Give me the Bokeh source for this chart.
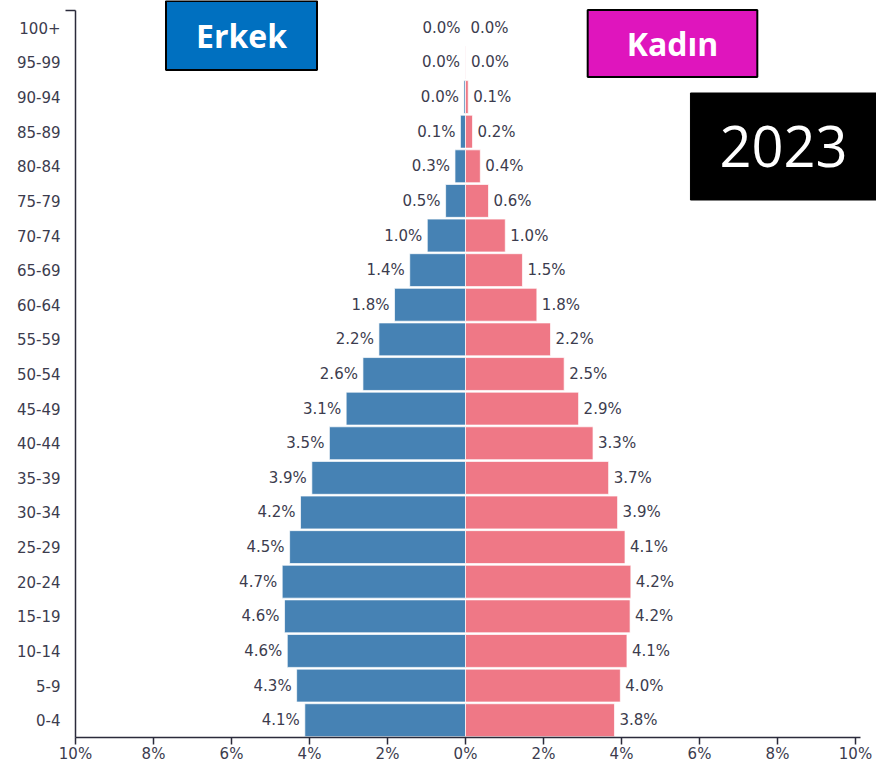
from bokeh.plotting import figure
from bokeh.models import Range1d, FixedTicker, Label, ColumnDataSource
from bokeh.embed import file_html
from bokeh.resources import INLINE
from bokeh.core.properties import value

# ---- data ----
age_groups = ["0-4", "5-9", "10-14", "15-19", "20-24", "25-29", "30-34", "35-39",
              "40-44", "45-49", "50-54", "55-59", "60-64", "65-69", "70-74", "75-79",
              "80-84", "85-89", "90-94", "95-99", "100+"]
male = [4.12, 4.33, 4.57, 4.64, 4.70, 4.51, 4.23, 3.94, 3.49, 3.06, 2.63, 2.22,
        1.82, 1.43, 0.98, 0.51, 0.27, 0.13, 0.04, 0.01, 0.00]
female = [3.82, 3.97, 4.14, 4.22, 4.24, 4.09, 3.90, 3.67, 3.27, 2.90, 2.53, 2.18,
          1.83, 1.46, 1.02, 0.59, 0.38, 0.18, 0.07, 0.01, 0.00]
x_ticks = [-10, -8, -6, -4, -2, 0, 2, 4, 6, 8, 10]
x_tick_labels = [f"{abs(t)}%" for t in x_ticks]
male_title = "Erkek"
female_title = "Kadın"
year_title = "2023"

idx = list(range(len(age_groups)))
src = ColumnDataSource(dict(
    y=idx,
    male_left=[-v for v in male],
    zero=[0.0] * len(idx),
    female=female,
    male_lbl=[f"{v:.1f}%" for v in male],
    female_lbl=[f"{v:.1f}%" for v in female],
))

FONT = "DejaVu Sans"
TXT = "#3c3c4e"
AX = "#2b2b3b"

W, H = 876, 766
LEFT, BOTTOM = 75, 29
PX_PER_PCT = 39.0
x_max = -10 + (W - LEFT) / PX_PER_PCT
n = len(age_groups)
px_per_row = 727 / n
y_max = n - 0.5 + 10 / px_per_row

p = figure(width=W, height=H, output_backend="svg", toolbar_location=None,
           x_range=Range1d(-10, x_max), y_range=Range1d(-0.5, y_max),
           min_border_left=LEFT, min_border_right=0, min_border_top=0,
           min_border_bottom=BOTTOM)
p.outline_line_color = None
p.grid.visible = False
p.background_fill_color = "white"

p.hbar(y="y", left="male_left", right="zero", height=0.95, source=src,
       fill_color="#4682b4", line_color="white", line_width=1, line_alpha=0.7)
p.hbar(y="y", left="zero", right="female", height=0.95, source=src,
       fill_color="#ef7886", line_color="white", line_width=1, line_alpha=0.7)

p.text(x="male_left", y="y", text="male_lbl", source=src, x_offset=-5,
       text_align="right", text_baseline="middle", text_font=value(FONT),
       text_font_size="15px", text_color=TXT)
p.text(x="female", y="y", text="female_lbl", source=src, x_offset=5,
       text_align="left", text_baseline="middle", text_font=value(FONT),
       text_font_size="15px", text_color=TXT)

# x axis
xa = p.xaxis[0]
xa.ticker = FixedTicker(ticks=x_ticks)
xa.bounds = (-10.23, 10.13)
xa.major_label_overrides = {t: l for t, l in zip(x_ticks, x_tick_labels)}
xa.minor_tick_line_color = None
xa.major_tick_out = 7
xa.major_tick_in = 0
xa.major_label_standoff = 0
xa.axis_line_color = AX
xa.axis_line_width = 1.5
xa.major_tick_line_color = AX
xa.major_tick_line_width = 1.5
xa.major_label_text_font = FONT
xa.major_label_text_font_size = "15px"
xa.major_label_text_color = TXT

# y axis (a single minor tick marks the top end of the axis)
ya = p.yaxis[0]
ya.ticker = FixedTicker(ticks=idx, minor_ticks=[n - 0.5])
ya.bounds = (-0.5, n - 0.5)
ya.major_label_overrides = {i: a for i, a in zip(idx, age_groups)}
ya.minor_tick_out = 10
ya.minor_tick_in = 0
ya.minor_tick_line_color = AX
ya.minor_tick_line_width = 1.5
ya.major_tick_out = 0
ya.major_tick_in = 0
ya.major_label_standoff = 5
ya.axis_line_color = AX
ya.axis_line_width = 1.5
ya.major_label_text_font = FONT
ya.major_label_text_font_size = "15px"
ya.major_label_text_color = TXT

# title boxes (screen units: from frame left / frame bottom)
p.add_layout(Label(x=166, y=702, x_units="screen", y_units="screen", text=male_title,
                   text_align="center", text_baseline="middle",
                   text_font="Open Sans", text_font_style="bold", text_font_size="32px",
                   text_color="white", background_fill_color="#0070c0",
                   border_line_color="black", border_line_width=2,
                   padding=dict(x=30, y=13)))
p.add_layout(Label(x=597, y=694, x_units="screen", y_units="screen", text=female_title,
                   text_align="center", text_baseline="middle",
                   text_font="Open Sans", text_font_style="bold", text_font_size="32px",
                   text_color="white", background_fill_color="#df15bd",
                   border_line_color="black", border_line_width=2,
                   padding=dict(x=39, y=12)))
p.add_layout(Label(x=708, y=591, x_units="screen", y_units="screen", text=year_title,
                   text_align="center", text_baseline="middle",
                   text_font="Open Sans", text_font_size="56px",
                   text_color="white", background_fill_color="black",
                   border_line_color="black", border_line_width=1,
                   padding=dict(x=29, y=33)))

open("out.html", "w").write(file_html(p, INLINE))
